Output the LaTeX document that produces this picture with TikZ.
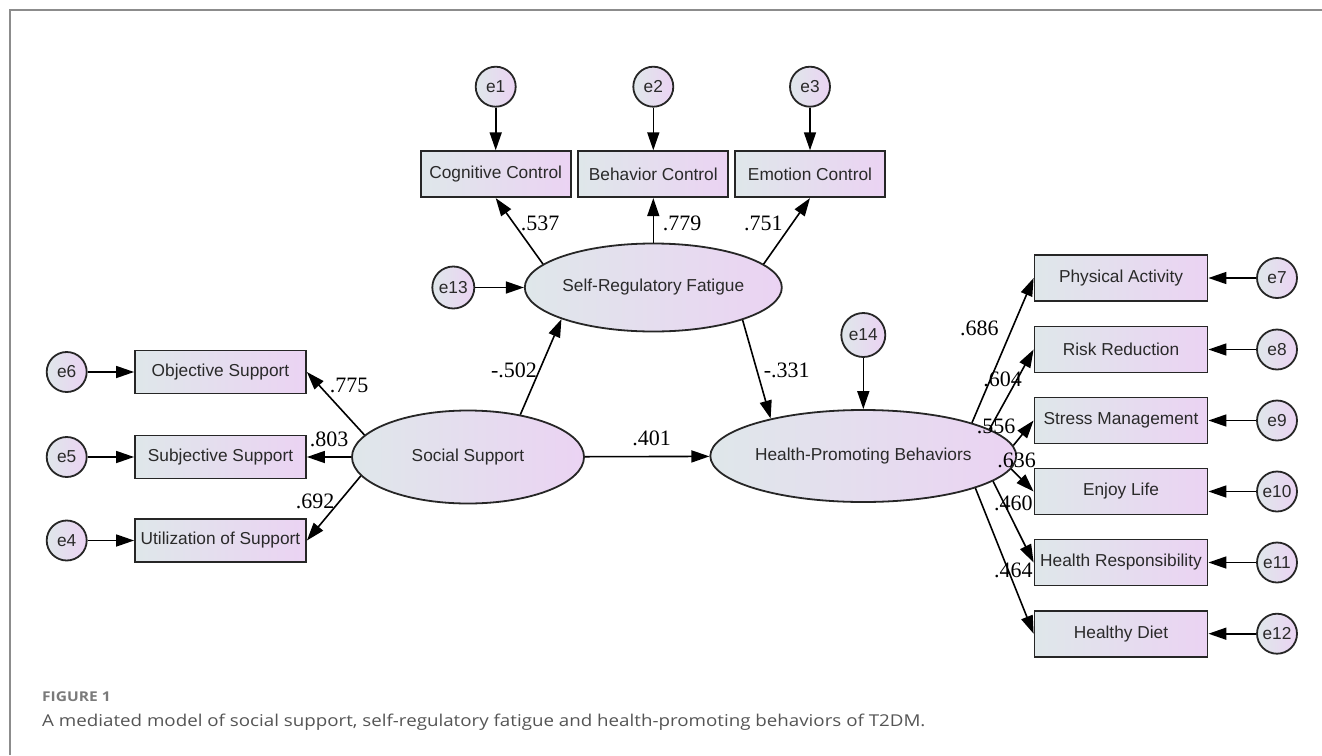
\documentclass[tikz,border=0pt]{standalone}
\usepackage{fontspec}
\setmainfont{Liberation Sans}
\newfontfamily\numfont{Liberation Serif}
\newfontfamily\capfont[FakeStretch=1.15]{Open Sans}
\usetikzlibrary{arrows.meta,shapes.geometric}
\definecolor{gl}{HTML}{DFE7EA}
\definecolor{gr}{HTML}{EBD3F3}
\definecolor{txt}{HTML}{2A2A2A}
\definecolor{framec}{HTML}{8C8C8C}
\definecolor{capc}{HTML}{555555}
\definecolor{figc}{HTML}{7A7A7A}
\begin{document}
\begin{tikzpicture}[x=1pt,y=-1pt,
  obs/.style={draw=black!85, line width=1.8pt, left color=gl, right color=gr, minimum height=46pt, inner sep=0pt, font=\fontsize{17.3}{20}\selectfont, text=txt},
  lat/.style={ellipse, draw=black!85, line width=1.8pt, left color=gl, right color=gr, inner sep=0pt, font=\fontsize{17.3}{20}\selectfont, text=txt},
  err/.style={circle, draw=black!85, line width=1.8pt, left color=gl, right color=gr, minimum size=40pt, inner sep=0pt, font=\fontsize{17.3}{20}\selectfont, text=txt},
  arr/.style={line width=1.6pt, -{Triangle[length=18pt,width=12pt]}},
  coef/.style={font=\numfont\fontsize{22}{25}\selectfont, inner sep=0pt, text=black},
]
\useasboundingbox (0,0) rectangle (1322,755);
\fill[white] (0,0) rectangle (1322,755);
\draw[framec, line width=2pt] (10,755) -- (10,10) -- (1322,10);

% latent variables
\node[lat, minimum width=236pt, minimum height=88pt] (srf) at (653.3,287.5) {Self-Regulatory Fatigue};
\node[lat, minimum width=232pt, minimum height=93pt] (ss) at (468,457) {Social Support};
\node[lat, minimum width=235pt, minimum height=92pt] (hpb) at (863.3,456) {Health-Promoting Behaviors};

% top indicators
\node[obs, minimum width=150pt] (cc) at (495.7,174.2) {Cognitive Control};
\node[obs, minimum width=150pt] (bc) at (653.3,174.2) {Behavior Control};
\node[obs, minimum width=150pt] (ec) at (810,174.2) {Emotion Control};
\node[err] (e1) at (495.7,86.7) {e1};
\node[err] (e2) at (653.3,86.7) {e2};
\node[err] (e3) at (810,86.7) {e3};
\node[err, minimum size=42pt] (e13) at (453.3,287.5) {e13};

% left indicators
\node[obs, minimum width=171pt, minimum height=43pt] (os) at (220.5,372) {Objective Support};
\node[obs, minimum width=171pt, minimum height=43pt] (sub) at (220.5,457) {Subjective Support};
\node[obs, minimum width=171pt, minimum height=43pt] (us) at (220.5,540.5) {Utilization of Support};
\node[err] (e6) at (66.7,372) {e6};
\node[err] (e5) at (66.7,457) {e5};
\node[err] (e4) at (66.7,540.5) {e4};

% right indicators
\node[obs, minimum width=173pt] (pa) at (1121,278) {Physical Activity};
\node[obs, minimum width=173pt] (rr) at (1121,349.5) {Risk Reduction};
\node[obs, minimum width=173pt] (sm) at (1121,420.5) {Stress Management};
\node[obs, minimum width=173pt] (el) at (1121,491.5) {Enjoy Life};
\node[obs, minimum width=173pt] (hr) at (1121,562.5) {Health Responsibility};
\node[obs, minimum width=173pt] (hd) at (1121,633.7) {Healthy Diet};
\node[err] (e7) at (1277,278) {e7};
\node[err] (e8) at (1277,349.5) {e8};
\node[err] (e9) at (1277,420.5) {e9};
\node[err] (e10) at (1277,491.5) {e10};
\node[err] (e11) at (1277,562.5) {e11};
\node[err] (e12) at (1277,633.7) {e12};
\node[err, minimum size=44pt] (e14) at (863.3,335) {e14};

% error arrows
\draw[arr] (e1) -- (cc);
\draw[arr] (e2) -- (bc);
\draw[arr] (e3) -- (ec);
\draw[arr] (e13) -- (srf);
\draw[arr] (e6) -- (os);
\draw[arr] (e5) -- (sub);
\draw[arr] (e4) -- (us);
\draw[arr] (e7) -- (pa);
\draw[arr] (e8) -- (rr);
\draw[arr] (e9) -- (sm);
\draw[arr] (e10) -- (el);
\draw[arr] (e11) -- (hr);
\draw[arr] (e12) -- (hd);
\draw[arr] (e14) -- (hpb);

% loadings
\draw[arr] (srf.168.6) -- (cc.south);
\draw[arr] (srf) -- (bc);
\draw[arr] (srf.12) -- (ec.south);
\draw[arr] (ss.168) -- (os.east);
\draw[arr] (ss) -- (sub);
\draw[arr] (ss.190.5) -- (us.east);
\draw[arr] (hpb.17) -- (pa.west);
\draw[arr] (hpb.12) -- (rr.west);
\draw[arr] (hpb.4.8) -- (sm.west);
\draw[arr] (hpb.-5.3) -- (el.west);
\draw[arr] (hpb.-11.4) -- (hr.west);
\draw[arr] (hpb.-16.2) -- (hd.west);

% structural paths
\draw[arr] (ss.39.7) -- (srf.199);
\draw[arr] (srf.-20.7) -- (hpb.158);
\draw[arr] (ss) -- (hpb);

% coefficients
\node[coef] (c1) at (540,223.3) {.537};
\node[coef] (c2) at (682,223) {.779};
\node[coef] (c3) at (763.3,223) {.751};
\node[coef] (c4) at (514,370) {-.502};
\node[coef] (c5) at (786.7,370) {-.331};
\node[coef] (c6) at (651.7,438.3) {.401};
\node[coef] (c7) at (349,385) {.775};
\node[coef] (c8) at (329,439.3) {.803};
\node[coef] (c9) at (315,501) {.692};
\node[coef] (c10) at (979.3,328.3) {.686};
\node[coef] (c11) at (1002.7,379.3) {.604};
\node[coef] (c12) at (996,426.7) {.556};
\node[coef] (c13) at (1016.7,460) {.636};
\node[coef] (c14) at (1013.3,503.3) {.460};
\node[coef] (c15) at (1013.3,570) {.464};

% caption
\node[anchor=west, inner sep=0pt, text=figc, font=\capfont\bfseries\fontsize{13.5}{15}\selectfont] (fig) at (42,697) {FIGURE 1};
\node[anchor=west, inner sep=0pt, text=capc, font=\capfont\fontsize{16.3}{19}\selectfont] (cap) at (42,722) {A mediated model of social support, self-regulatory fatigue and health-promoting behaviors of T2DM.};
\end{tikzpicture}
\end{document}
